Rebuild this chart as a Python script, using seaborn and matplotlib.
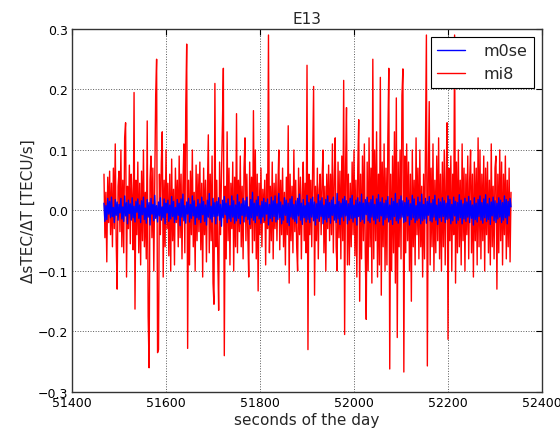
#--dsTEC/dT for E13, two receivers (m0se, mi8)--#
import numpy as np
import pandas as pd
import seaborn as sns
import matplotlib
matplotlib.use("Agg")
import matplotlib.pyplot as plt

#--Data (2 s sampling)--#
t_start = 51468
t_step = 2

mi8 = [
    0.06, -0.045, 0.03, -0.085, 0.055, -0.02, 0.065, -0.04, 0.045, -0.06, 0.07, -0.03, 0.11, -0.05, -0.13, 0.04, 0.065, -0.035, 0.1, -0.06,
    0.05, -0.07, 0.12, 0.145, -0.11, 0.04, -0.03, 0.075, -0.055, 0.06, 0.02, -0.065, 0.195, -0.163, 0.05, -0.04, 0.08, -0.07, 0.045, -0.09,
    0.065, -0.05, 0.1, -0.06, 0.03, -0.08, 0.148, -0.175, -0.26, 0.05, 0.09, -0.045, 0.07, -0.1, 0.04, 0.19, 0.25, -0.235, -0.23, 0.06,
    -0.04, 0.08, 0.13, -0.11, 0.05, -0.06, 0.1, -0.03, 0.045, -0.075, 0.06, -0.1, 0.085, -0.05, 0.035, -0.09, 0.07, -0.02, 0.05, -0.06,
    0.09, -0.045, 0.06, -0.08, 0.04, 0.11, -0.07, 0.17, 0.275, -0.228, 0.05, -0.09, 0.065, -0.04, 0.1, -0.06, 0.03, -0.1, 0.075, -0.05,
    0.06, -0.035, 0.08, -0.065, 0.045, -0.11, 0.07, -0.04, 0.05, -0.085, 0.03, 0.125, -0.07, 0.06, -0.05, 0.09, -0.12, -0.155, 0.21, -0.06,
    0.05, -0.07, -0.165, 0.08, -0.04, 0.06, 0.14, 0.235, -0.24, 0.04, -0.08, 0.13, -0.05, 0.07, -0.09, 0.045, -0.03, 0.08, -0.1, 0.055,
    -0.06, 0.16, -0.07, 0.05, -0.035, 0.09, -0.06, 0.04, -0.08, 0.07, 0.12, -0.05, 0.06, -0.04, -0.11, 0.08, -0.03, 0.055, -0.07, 0.165,
    -0.05, 0.1, -0.08, 0.06, -0.133, 0.045, -0.04, 0.07, -0.06, 0.035, -0.02, 0.05, -0.09, 0.06, -0.03, 0.29, -0.07, 0.04, -0.05, 0.08,
    -0.08, 0.045, -0.03, 0.06, -0.05, 0.035, 0.1, -0.065, 0.05, -0.04, 0.07, -0.06, 0.03, -0.09, 0.055, -0.04, 0.14, -0.12, 0.06, -0.05,
    0.04, -0.07, 0.1, -0.035, 0.05, -0.06, -0.1, 0.07, -0.04, 0.055, -0.08, 0.03, 0.08, -0.05, 0.045, -0.07, 0.24, -0.23, 0.06, -0.04,
    0.05, -0.06, 0.08, 0.205, -0.14, 0.04, -0.05, 0.07, -0.08, 0.035, 0.06, -0.04, 0.05, 0.1, -0.07, 0.04, -0.1, 0.06, -0.03, 0.075,
    -0.05, 0.06, -0.04, 0.11, -0.07, 0.05, 0.12, -0.06, -0.1, 0.08, -0.045, 0.065, -0.08, 0.09, -0.05, 0.215, -0.205, 0.07, 0.17, -0.09,
    0.06, -0.09, 0.045, -0.06, 0.08, -0.04, 0.1, -0.075, 0.05, -0.11, 0.07, 0.15, -0.15, 0.06, -0.08, 0.09, -0.05, 0.11, -0.07, -0.18,
    0.08, -0.1, 0.12, -0.06, 0.07, -0.12, 0.25, -0.08, 0.1, -0.05, 0.13, -0.11, 0.06, -0.09, 0.22, -0.14, 0.08, -0.06, 0.11, -0.1,
    0.07, -0.09, 0.12, 0.235, -0.262, 0.06, -0.1, 0.09, -0.07, 0.13, -0.12, 0.186, -0.21, 0.08, -0.06, 0.1, -0.08, 0.19, 0.234, -0.267,
    0.09, -0.07, 0.11, -0.05, 0.08, -0.1, 0.06, -0.15, 0.1, -0.06, 0.05, -0.09, 0.12, -0.04, 0.07, -0.08, 0.1, -0.06, 0.04, -0.11,
    0.06, -0.08, 0.1, 0.29, -0.257, 0.05, 0.18, -0.09, 0.07, -0.06, 0.11, -0.1, 0.05, -0.07, 0.09, -0.05, 0.12, -0.08, 0.06, -0.1,
    0.08, -0.06, 0.1, -0.09, 0.05, 0.145, -0.213, 0.07, -0.05, 0.09, -0.1, 0.06, -0.04, 0.29, -0.12, 0.08, -0.07, 0.1, -0.06, 0.05,
    -0.09, 0.11, -0.05, 0.07, -0.1, 0.06, -0.04, 0.09, -0.08, 0.05, 0.1, -0.07, 0.06, -0.11, 0.08, -0.05, 0.07, -0.09, 0.12, -0.06,
    0.1, -0.08, 0.06, -0.05, 0.09, -0.1, 0.07, -0.04, 0.08, -0.07, 0.05, -0.09, 0.11, -0.06, 0.04, -0.08, 0.07, 0.09, -0.13, 0.06,
    -0.07, 0.1, -0.05, 0.08, -0.09, 0.06, -0.04, 0.09, -0.08, 0.05, -0.06, 0.07, -0.085, 0.03,
]

m0se = [
    0.012, -0.018, 0.008, -0.015, 0.02, -0.006, 0.015, -0.012, 0.022, -0.01, 0.005, -0.02, 0.018, -0.008, 0.014, -0.016, 0.01, -0.004, 0.02, -0.014,
    0.006, -0.018, 0.024, -0.009, 0.013, -0.022, 0.017, -0.005, 0.011, -0.016, 0.021, -0.012, 0.007, -0.019, 0.015, -0.003, 0.019, -0.013, 0.009, -0.02,
    0.016, -0.007, 0.022, -0.015, 0.004, -0.021, 0.018, -0.011, 0.013, -0.024, 0.02, -0.006, 0.01, -0.017, 0.025, -0.013, 0.008, -0.019, 0.014, -0.009,
    0.021, -0.016, 0.006, -0.012, 0.019, -0.022, 0.012, -0.004, 0.017, -0.018, 0.009, -0.014, 0.023, -0.01, 0.015, -0.02, 0.005, -0.015, 0.018, -0.008,
    0.012, -0.025, 0.019, -0.011, 0.027, -0.017, 0.008, -0.021, 0.014, -0.006, 0.02, -0.019, 0.01, -0.013, 0.024, -0.009, 0.016, -0.023, 0.006, -0.012,
    0.018, -0.015, 0.011, -0.02, 0.022, -0.007, 0.015, -0.018, 0.009, -0.024, 0.017, -0.011, 0.028, -0.014, 0.007, -0.019, 0.02, -0.01, 0.013, -0.022,
    0.015, -0.009, 0.021, -0.016, 0.01, -0.026, 0.017, -0.012, 0.023, -0.007, 0.012, -0.02, 0.019, -0.014, 0.008, -0.018, 0.024, -0.011, 0.016, -0.021,
    0.009, -0.017, 0.026, -0.013, 0.014, -0.022, 0.011, -0.008, 0.02, -0.019, 0.016, -0.01, 0.022, -0.015, 0.006, -0.023, 0.018, -0.012, 0.03, -0.016,
    0.012, -0.02, 0.017, -0.009, 0.023, -0.014, 0.008, -0.021, 0.015, -0.011, 0.02, -0.017, 0.013, -0.006, 0.019, -0.024, 0.01, -0.013, 0.022, -0.018,
    0.016, -0.01, 0.024, -0.019, 0.011, -0.015, 0.028, -0.012, 0.014, -0.022, 0.009, -0.016, 0.021, -0.008, 0.017, -0.02, 0.012, -0.025, 0.019, -0.011,
    0.023, -0.014, 0.01, -0.018, 0.016, -0.021, 0.02, -0.009, 0.027, -0.016, 0.012, -0.023, 0.018, -0.012, 0.008, -0.019, 0.025, -0.015, 0.013, -0.02,
    0.019, -0.011, 0.022, -0.017, 0.014, -0.024, 0.011, -0.013, 0.026, -0.018, 0.016, -0.01, 0.021, -0.022, 0.009, -0.015, 0.018, -0.019, 0.024, -0.012,
    0.013, -0.021, 0.017, -0.008, 0.022, -0.016, 0.01, -0.02, 0.028, -0.014, 0.015, -0.023, 0.012, -0.011, 0.019, -0.017, 0.023, -0.009, 0.016, -0.022,
    0.011, -0.016, 0.02, -0.013, 0.025, -0.019, 0.009, -0.012, 0.017, -0.024, 0.021, -0.01, 0.014, -0.018, 0.027, -0.015, 0.012, -0.021, 0.018, -0.007,
    0.022, -0.017, 0.013, -0.02, 0.018, -0.011, 0.024, -0.016, 0.01, -0.022, 0.019, -0.013, 0.026, -0.018, 0.014, -0.009, 0.021, -0.024, 0.012, -0.015,
    0.017, -0.012, 0.023, -0.019, 0.009, -0.015, 0.02, -0.023, 0.015, -0.01, 0.028, -0.017, 0.012, -0.021, 0.018, -0.014, 0.024, -0.011, 0.016, -0.02,
    0.013, -0.018, 0.021, -0.009, 0.017, -0.024, 0.011, -0.015, 0.025, -0.012, 0.019, -0.02, 0.008, -0.016, 0.022, -0.013, 0.014, -0.022, 0.027, -0.017,
    0.01, -0.014, 0.02, -0.021, 0.015, -0.008, 0.023, -0.017, 0.012, -0.019, 0.018, -0.011, 0.025, -0.016, 0.009, -0.023, 0.019, -0.012, 0.014, -0.018,
    0.021, -0.01, 0.016, -0.02, 0.012, -0.015, 0.024, -0.013, 0.018, -0.022, 0.01, -0.017, 0.022, -0.009, 0.015, -0.021, 0.013, -0.016, 0.026, -0.012,
    0.017, -0.022, 0.011, -0.014, 0.02, -0.018, 0.014, -0.011, 0.023, -0.02, 0.016, -0.013, 0.009, -0.024, 0.021, -0.015, 0.012, -0.019, 0.018, -0.01,
    0.024, -0.016, 0.013, -0.021, 0.019, -0.012, 0.026, -0.018, 0.011, -0.015, 0.02, -0.023, 0.014, -0.009, 0.022, -0.017, 0.016, -0.02, 0.012, -0.014,
    0.021, -0.011, 0.017, -0.02, 0.013, -0.016, 0.024, -0.012, 0.018, -0.022, 0.015, -0.009, 0.02, 0.006,
]

x_ticks = [51400, 51600, 51800, 52000, 52200, 52400]
y_ticks = [-0.3, -0.2, -0.1, 0.0, 0.1, 0.2, 0.3]

secs = t_start + t_step * np.arange(len(mi8))
df = pd.DataFrame({"sec": secs, "mi8": mi8, "m0se": m0se[:len(mi8)]})

#--Plot--#
sns.set_style("white")
plt.rcParams["font.family"] = ["DejaVu Sans"]

fig = plt.figure(figsize=(5.6, 4.35), dpi=100)
ax = fig.add_axes([0.1286, 0.0966, 0.8393, 0.8345])

# red first so the blue band sits on top, like the original
sns.lineplot(data=df, x="sec", y="mi8", color="red", lw=1.0, ax=ax, label="mi8")
sns.lineplot(data=df, x="sec", y="m0se", color="blue", lw=1.0, ax=ax, label="m0se")

ax.set_xlim(51400, 52400)
ax.set_ylim(-0.3, 0.3)
ax.set_xticks(x_ticks)
ax.set_yticks(y_ticks)
ax.set_yticklabels([f"{v:.1f}".replace("-", "\u2212") for v in y_ticks])
ax.tick_params(direction="in", length=4, width=0.8, top=True, right=True,
               labelsize=9, colors="black", pad=3)
ax.grid(True, color="0.35", linestyle=":", linewidth=0.7)
for s in ax.spines.values():
    s.set_color("0.2")
    s.set_linewidth(1.0)

ax.set_title("E13", fontsize=11, pad=4)
ax.set_xlabel("seconds of the day", fontsize=11, labelpad=2)
ax.set_ylabel("\u0394sTEC/\u0394T [TECU/s]", fontsize=11, labelpad=1)

h, l = ax.get_legend_handles_labels()
order = [l.index("m0se"), l.index("mi8")]
leg = ax.legend([h[i] for i in order], [l[i] for i in order], loc="upper right",
                fontsize=11.5, fancybox=False, framealpha=1, edgecolor="black",
                handlelength=1.7, handletextpad=1.2, borderaxespad=0.5)
leg.get_frame().set_linewidth(0.8)

fig.savefig("out.png", dpi=100)
